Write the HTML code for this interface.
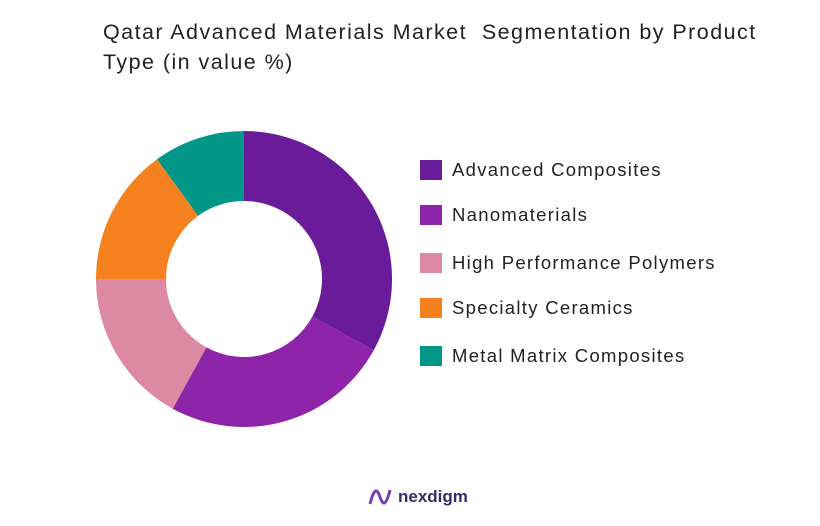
<!DOCTYPE html>
<html><head><meta charset="utf-8"><style>
body{margin:0;background:#fff;font-family:"Liberation Sans",sans-serif;}
#wrap{position:relative;width:820px;height:526px;overflow:hidden;background:#fff}
#title{position:absolute;left:103px;top:17px;font-size:21.5px;line-height:30px;color:#222;letter-spacing:1.45px;white-space:nowrap}
.leg{position:absolute;left:420px;height:24px;display:flex;align-items:center;font-size:18.5px;color:#222;letter-spacing:1.3px;white-space:nowrap}
.sw{width:22px;height:20px;margin-right:10px}
</style></head><body>
<div id="wrap">
<div id="title">Qatar Advanced Materials Market&nbsp; Segmentation by Product<br>Type (in value %)</div>
<svg id="donut" width="820" height="526" style="position:absolute;left:0;top:0"></svg>
<div id="legend"></div>
<div style="position:absolute;left:368px;top:486px;display:flex;align-items:center;font-size:17px;font-weight:bold;color:#3a2a6a">
<svg width="24" height="22" viewBox="0 0 24 22"><path d="M2 18 C6 2,9 2,12 11 C15 20,18 20,22 4" stroke="#7b3fb0" stroke-width="3" fill="none"/></svg>
<span style="margin-left:6px">nexdigm</span></div>
</div>
<script>
const categories=["Advanced Composites","Nanomaterials","High Performance Polymers","Specialty Ceramics","Metal Matrix Composites"];
const values=[33,25,17,15,10];
const colors=["#6a1b9a","#8e24aa","#de89a3","#f5821f","#009688"];
const svg=document.getElementById('donut');
const cx=244,cy=279,R=148,r=78;
const total=values.reduce((a,b)=>a+b,0);
let a0=0;
function pt(rad,ang){return [cx+rad*Math.sin(ang),cy-rad*Math.cos(ang)];}
values.forEach((v,i)=>{
 const a1=a0+v/total*2*Math.PI;
 const large=(a1-a0)>Math.PI?1:0;
 const [x1,y1]=pt(R,a0),[x2,y2]=pt(R,a1),[x3,y3]=pt(r,a1),[x4,y4]=pt(r,a0);
 const p=document.createElementNS('http://www.w3.org/2000/svg','path');
 p.setAttribute('d',`M${x1},${y1}A${R},${R} 0 ${large} 1 ${x2},${y2}L${x3},${y3}A${r},${r} 0 ${large} 0 ${x4},${y4}Z`);
 p.setAttribute('fill',colors[i]);
 
 
 svg.appendChild(p);
 a0=a1;
});
const tops=[158,203,251,296,344];
const lg=document.getElementById('legend');
categories.forEach((c,i)=>{
 const d=document.createElement('div');
 d.className='leg';d.style.top=tops[i]+'px';
 
 
 d.innerHTML='<div class="sw" style="background:'+colors[i]+'"></div><span>'+c+'</span>';
 lg.appendChild(d);
});
</script>
</body></html>
